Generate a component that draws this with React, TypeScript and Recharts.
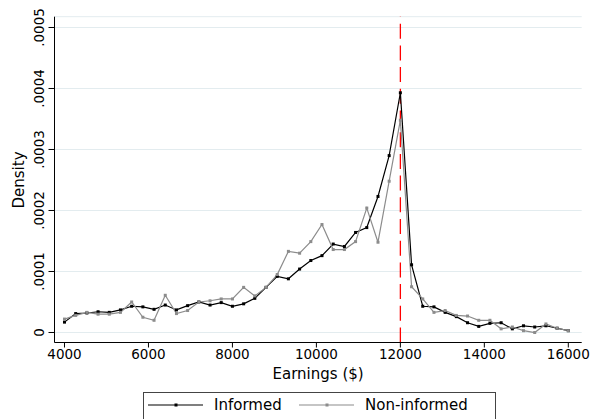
import { LineChart, Line, XAxis, YAxis, CartesianGrid, ReferenceLine, Legend } from 'recharts';

// earnings bins ($), density values are in units of 1e-4
const earnings = [
  4000, 4267, 4533, 4800, 5067, 5333, 5600, 5867, 6133, 6400, 6667, 6933, 7200, 7467, 7733, 8000,
  8267, 8533, 8800, 9067, 9333, 9600, 9867, 10133, 10400, 10667, 10933, 11200, 11467, 11733, 12000,
  12267, 12533, 12800, 13067, 13333, 13600, 13867, 14133, 14400, 14667, 14933, 15200, 15467, 15733, 16000,
];
const informed = [
  0.17, 0.31, 0.32, 0.34, 0.33, 0.37, 0.43, 0.42, 0.38, 0.45, 0.37, 0.44, 0.5, 0.45, 0.49, 0.43,
  0.47, 0.56, 0.74, 0.92, 0.88, 1.04, 1.18, 1.26, 1.45, 1.41, 1.64, 1.72, 2.23, 2.9, 3.93,
  1.11, 0.43, 0.42, 0.33, 0.26, 0.16, 0.1, 0.15, 0.16, 0.06, 0.11, 0.09, 0.11, 0.07, 0.03,
];
const nonInformed = [
  0.22, 0.28, 0.33, 0.3, 0.3, 0.33, 0.5, 0.25, 0.2, 0.61, 0.31, 0.36, 0.5, 0.52, 0.55, 0.55,
  0.74, 0.6, 0.74, 0.95, 1.33, 1.3, 1.49, 1.77, 1.36, 1.36, 1.49, 2.04, 1.48, 2.48, 3.48,
  0.75, 0.55, 0.33, 0.36, 0.28, 0.27, 0.2, 0.2, 0.06, 0.09, 0.03, 0.0, 0.14, 0.07, 0.03,
];
const xTicks = [4000, 6000, 8000, 10000, 12000, 14000, 16000];
const yTicks = [0, 1, 2, 3, 4, 5];
const yTickLabels = ['0', '.0001', '.0002', '.0003', '.0004', '.0005'];
const cutoff = 12000;
const seriesNames = ['Informed', 'Non-informed'];
const seriesColors = ['#000000', '#8c8c8c'];

const data = earnings.map((e, i) => ({
  earnings: e,
  informed: informed[i],
  nonInformed: nonInformed[i],
}));

const FONT = '"DejaVu Sans", sans-serif';

const squareDot = (color: string) => (props: any) => {
  const { cx, cy, index } = props;
  if (cx == null || cy == null) return <g key={index} />;
  return <rect key={index} x={cx - 1.5} y={cy - 1.5} width={3} height={3} fill={color} />;
};

function YTick({ y, payload }: any) {
  const label = yTickLabels[yTicks.indexOf(payload.value)];
  return (
    <text
      transform={`translate(39,${y}) rotate(-90)`}
      textAnchor="middle"
      dy="0.36em"
      fontFamily={FONT}
      fontSize={13.5}
      fill="#000"
    >
      {label}
    </text>
  );
}

function LegendBox() {
  return (
    <svg width={353} height={30} style={{ display: 'block' }}>
      <rect x={0.5} y={0.5} width={352} height={40} fill="#fff" stroke="#444" strokeWidth={1} />
      {seriesNames.map((name, i) => {
        const x0 = i === 0 ? 5 : 156;
        return (
          <g key={name}>
            <line x1={x0} x2={x0 + 55} y1={13} y2={13} stroke={seriesColors[i]} strokeWidth={1.2} />
            <rect x={x0 + 26.5} y={11.5} width={3} height={3} fill={seriesColors[i]} />
            <text x={x0 + 66} y={13} dy="0.36em" fontFamily={FONT} fontSize={15} fill="#000">
              {name}
            </text>
          </g>
        );
      })}
    </svg>
  );
}

export default function App() {
  return (
    <div style={{ position: 'absolute', left: 0, top: 0, width: 591, height: 419, overflow: 'hidden', background: '#fff' }}>
      <LineChart
        width={591}
        height={419}
        data={data}
        margin={{ top: 16.7, right: 9.3, bottom: 0, left: 0.5 }}
      >
        <CartesianGrid horizontal vertical={false} stroke="#e3ecef" strokeWidth={1} />
        <XAxis
          dataKey="earnings"
          type="number"
          domain={[3762, 16319]}
          ticks={xTicks}
          allowDataOverflow
          height={46.5}
          tickSize={5}
          tickMargin={2}
          stroke="#000"
          tick={{ fontFamily: FONT, fontSize: 13.5, fill: '#000' }}
          label={{
            content: (p: any) => {
              const vb = p.viewBox || {};
              return (
                <text x={vb.x + vb.width / 2} y={379} textAnchor="middle" fontFamily={FONT} fontSize={15} fill="#000">
                  Earnings ($)
                </text>
              );
            },
          }}
        />
        <YAxis
          type="number"
          domain={[-0.164, 5.177]}
          ticks={yTicks}
          allowDataOverflow
          width={54}
          tickSize={6}
          stroke="#000"
          tick={<YTick />}
          label={{
            content: () => (
              <text transform="translate(19,180) rotate(-90)" textAnchor="middle" dy="0.36em" fontFamily={FONT} fontSize={15} fill="#000">
                Density
              </text>
            ),
          }}
        />
        <ReferenceLine x={cutoff} stroke="#ff0000" strokeWidth={1.3} strokeDasharray="15 6.7" />
        <Line
          dataKey="informed"
          name={seriesNames[0]}
          type="linear"
          stroke={seriesColors[0]}
          strokeWidth={1.2}
          dot={squareDot(seriesColors[0])}
          activeDot={false}
          isAnimationActive={false}
        />
        <Line
          dataKey="nonInformed"
          name={seriesNames[1]}
          type="linear"
          stroke={seriesColors[1]}
          strokeWidth={1.2}
          dot={squareDot(seriesColors[1])}
          activeDot={false}
          isAnimationActive={false}
        />
        <Legend
          content={<LegendBox />}
          wrapperStyle={{ position: 'absolute', left: 143, top: 392, bottom: 'auto', width: 353, height: 30 }}
        />
      </LineChart>
    </div>
  );
}
